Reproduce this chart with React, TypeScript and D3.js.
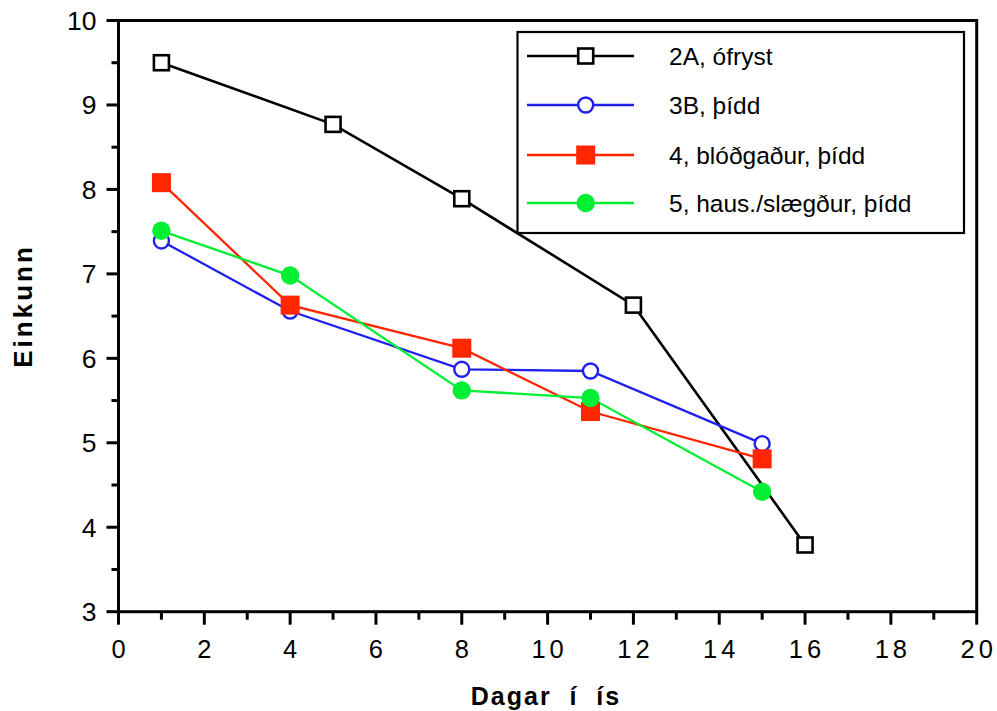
import React from "react";
import * as d3 from "d3";

const seriesNames = ["2A, ófryst", "3B, þídd", "4, blóðgaður, þídd", "5, haus./slægður, þídd"];
const days2A = [1, 5, 8, 12, 16];
const vals2A = [9.5, 8.77, 7.89, 6.63, 3.79];
const days3B = [1, 4, 8, 11, 15];
const vals3B = [7.39, 6.56, 5.87, 5.85, 4.99];
const days4 = [1, 4, 8, 11, 15];
const vals4 = [8.08, 6.63, 6.12, 5.37, 4.81];
const days5 = [1, 4, 8, 11, 15];
const vals5 = [7.51, 6.98, 5.62, 5.53, 4.42];
const xTicks = [0, 2, 4, 6, 8, 10, 12, 14, 16, 18, 20];
const yTicks = [3, 4, 5, 6, 7, 8, 9, 10];
const xLabel = "Dagar  í  ís";
const yLabel = "Einkunn";

const colors = ["#000000", "#2020ee", "#ff2600", "#00ee33"];
const markers = ["openSquare", "openCircle", "square", "circle"];

const W = 997;
const H = 711;
const x0 = 118.5, x1 = 976.7, y0 = 611.7, y1 = 20.5;
const FONT = "'Liberation Sans', Arial, sans-serif";

function Marker({ type, cx, cy, color }: { type: string; cx: number; cy: number; color: string }) {
  if (type === "openSquare")
    return <rect x={cx - 7.5} y={cy - 7.5} width={15} height={15} fill="#fff" stroke={color} strokeWidth={2.6} />;
  if (type === "square")
    return <rect x={cx - 9.5} y={cy - 9.5} width={19} height={19} fill={color} />;
  if (type === "openCircle")
    return <circle cx={cx} cy={cy} r={7.5} fill="#fff" stroke={color} strokeWidth={2.4} />;
  return <circle cx={cx} cy={cy} r={9.2} fill={color} />;
}

export default function App() {
  const x = d3.scaleLinear().domain([0, 20]).range([x0, x1]);
  const y = d3.scaleLinear().domain([3, 10]).range([y0, y1]);
  const series = [
    { days: days2A, vals: vals2A },
    { days: days3B, vals: vals3B },
    { days: days4, vals: vals4 },
    { days: days5, vals: vals5 },
  ];
  const line = d3.line<[number, number]>().x((d) => x(d[0])).y((d) => y(d[1]));
  const xMinor = d3.range(1, 20, 2);
  const yMinor = d3.range(3.5, 10, 1);
  const legendRows = [56, 105, 155, 203];

  return (
    <svg width={W} height={H} style={{ position: "absolute", left: 0, top: 0, background: "#fff" }}>
      <rect x={0} y={0} width={W} height={H} fill="#fff" />
      {series.map((s, i) => (
        <path
          key={"l" + i}
          d={line(s.days.map((d, j) => [d, s.vals[j]] as [number, number])) || ""}
          fill="none"
          stroke={colors[i]}
          strokeWidth={i === 0 ? 2.6 : 2.3}
        />
      ))}
      {series.map((s, i) =>
        s.days.map((d, j) => <Marker key={"m" + i + "_" + j} type={markers[i]} cx={x(d)} cy={y(s.vals[j])} color={colors[i]} />)
      )}
      {/* frame */}
      <rect x={x0} y={y1} width={x1 - x0} height={y0 - y1} fill="none" stroke="#000" strokeWidth={3} />
      {/* y ticks */}
      {yTicks.map((t) => (
        <g key={"yt" + t}>
          <line x1={x0 - 12} x2={x0} y1={y(t)} y2={y(t)} stroke="#000" strokeWidth={3} />
          <text x={x0 - 22} y={y(t)} dy="0.36em" textAnchor="end" fontFamily={FONT} fontSize={26.5}>
            {t}
          </text>
        </g>
      ))}
      {yMinor.map((t) => (
        <line key={"ym" + t} x1={x0 - 7} x2={x0} y1={y(t)} y2={y(t)} stroke="#000" strokeWidth={3} />
      ))}
      {/* x ticks */}
      {xTicks.map((t) => (
        <g key={"xt" + t}>
          <line x1={x(t)} x2={x(t)} y1={y0} y2={y0 + 13} stroke="#000" strokeWidth={3} />
          <text
            x={x(t) + (t >= 10 ? 2 : 0)}
            y={y0 + 46}
            textAnchor="middle"
            fontFamily={FONT}
            fontSize={25.5}
            letterSpacing={t >= 10 ? 4 : 0}
          >
            {t}
          </text>
        </g>
      ))}
      {xMinor.map((t) => (
        <line key={"xm" + t} x1={x(t)} x2={x(t)} y1={y0} y2={y0 + 8} stroke="#000" strokeWidth={3} />
      ))}
      {/* axis titles */}
      <text
        x={546}
        y={705}
        textAnchor="middle"
        fontFamily={FONT}
        fontSize={25}
        fontWeight="bold"
        letterSpacing={2}
        style={{ whiteSpace: "pre" }}
      >
        {xLabel}
      </text>
      <text
        transform={`translate(32,306) rotate(-90)`}
        textAnchor="middle"
        fontFamily={FONT}
        fontSize={26}
        fontWeight="bold"
        letterSpacing={3}
      >
        {yLabel}
      </text>
      {/* legend */}
      <rect x={517.5} y={32} width={446.5} height={201} fill="#fff" stroke="#000" strokeWidth={2.2} />
      {seriesNames.map((n, i) => (
        <g key={"lg" + i}>
          <line x1={527} x2={634} y1={legendRows[i]} y2={legendRows[i]} stroke={colors[i]} strokeWidth={i === 0 ? 2.6 : 2.3} />
          <Marker type={markers[i]} cx={585.7} cy={legendRows[i]} color={colors[i]} />
          <text x={669} y={legendRows[i]} dy="0.36em" fontFamily={FONT} fontSize={24.5}>
            {n}
          </text>
        </g>
      ))}
    </svg>
  );
}
